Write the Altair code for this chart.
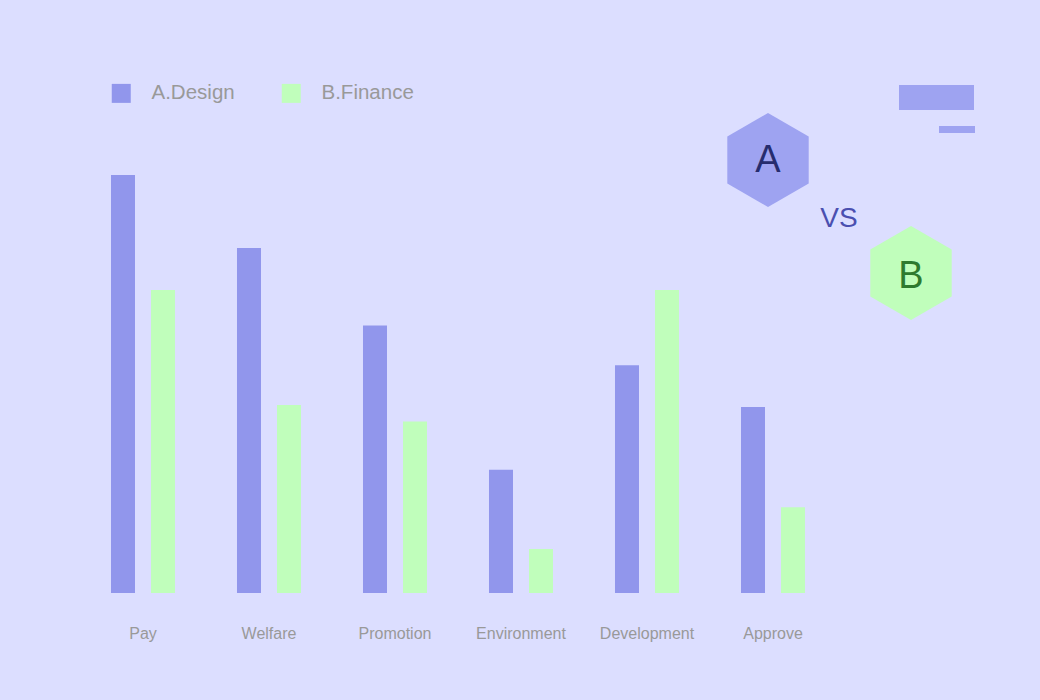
import altair as alt
import pandas as pd

categories = ["Pay", "Welfare", "Promotion", "Environment", "Development", "Approve"]
series_names = ["A.Design", "B.Finance"]
design_values = [100, 82.5, 64, 29.5, 54.5, 44.5]
finance_values = [72.5, 45, 41, 10.5, 72.5, 20.5]

rows = []
for c, a, b in zip(categories, design_values, finance_values):
    rows.append({"category": c, "series": series_names[0], "value": a})
    rows.append({"category": c, "series": series_names[1], "value": b})
df = pd.DataFrame(rows)

BG = "#dcdeff"
COL_A = "#9196ec"
COL_B = "#c0febb"
HEX_A = "#9ea3f1"

PLOT_LEFT, PLOT_TOP = 80, 60
W, H = 756, 533

bars = alt.Chart(df).mark_bar().encode(
    x=alt.X("category:N", sort=categories, title=None,
            scale=alt.Scale(paddingInner=0.492, paddingOuter=0.246),
            axis=alt.Axis(labelAngle=0, labelFontSize=16, labelColor="#999999",
                          labelFont="Liberation Sans", ticks=False, domain=False,
                          labelPadding=32, grid=False)),
    xOffset=alt.XOffset("series:N", sort=series_names,
                        scale=alt.Scale(paddingInner=0.4, paddingOuter=0)),
    y=alt.Y("value:Q", scale=alt.Scale(domain=[0, 127.5], nice=False, zero=True),
            axis=None),
    color=alt.Color("series:N", sort=series_names,
                    scale=alt.Scale(domain=series_names, range=[COL_A, COL_B]),
                    legend=alt.Legend(orient="none", legendX=31, legendY=23,
                                      direction="horizontal", title=None,
                                      symbolType="square", symbolSize=361,
                                      symbolStrokeWidth=0, symbolOpacity=1,
                                      labelFontSize=20.5, labelColor="#999999",
                                      labelFont="Liberation Sans", labelOffset=20,
                                      columnPadding=46, padding=0)),
)

hex_path = "M0,-1L0.866,-0.5L0.866,0.5L0,1L-0.866,0.5L-0.866,-0.5Z"
deco = pd.DataFrame({"k": [0]})

hexA = alt.Chart(deco).mark_point(shape=hex_path, filled=True, size=8836,
                                  color=HEX_A, opacity=1, strokeWidth=0).encode(
    x=alt.value(768 - PLOT_LEFT), y=alt.value(160 - PLOT_TOP))
hexB = alt.Chart(deco).mark_point(shape=hex_path, filled=True, size=8836,
                                  color=COL_B, opacity=1, strokeWidth=0).encode(
    x=alt.value(911 - PLOT_LEFT), y=alt.value(273 - PLOT_TOP))

txtA = alt.Chart(deco).mark_text(text="A", fontSize=38, font="Liberation Sans",
                                 color="#262c6e", baseline="alphabetic", align="center").encode(
    x=alt.value(768 - PLOT_LEFT), y=alt.value(172 - PLOT_TOP))
txtB = alt.Chart(deco).mark_text(text="B", fontSize=38, font="Liberation Sans",
                                 color="#2e7a2e", baseline="alphabetic", align="center").encode(
    x=alt.value(911 - PLOT_LEFT), y=alt.value(288 - PLOT_TOP))
txtVS = alt.Chart(deco).mark_text(text="VS", fontSize=28, font="Liberation Sans",
                                  color="#4a4fb0", baseline="alphabetic", align="center").encode(
    x=alt.value(839 - PLOT_LEFT), y=alt.value(227 - PLOT_TOP))

rect1 = alt.Chart(deco).mark_rect(color=HEX_A).encode(
    x=alt.value(899 - PLOT_LEFT), x2=alt.value(974 - PLOT_LEFT),
    y=alt.value(85 - PLOT_TOP), y2=alt.value(110 - PLOT_TOP))
rect2 = alt.Chart(deco).mark_rect(color=HEX_A).encode(
    x=alt.value(939 - PLOT_LEFT), x2=alt.value(975 - PLOT_LEFT),
    y=alt.value(126 - PLOT_TOP), y2=alt.value(133 - PLOT_TOP))

chart = alt.layer(bars, hexA, hexB, txtA, txtB, txtVS, rect1, rect2).properties(
    width=W, height=H,
    autosize=alt.AutoSizeParams(type="none"),
    padding={"left": PLOT_LEFT - 8, "top": PLOT_TOP - 8, "right": 1024 - PLOT_LEFT - W, "bottom": 684 - PLOT_TOP - H},
    background=BG,
).configure_view(stroke=None)

chart.save("out.html", embed_options={"renderer": "svg", "actions": False})

# paint the page margin with the same background colour
with open("out.html", "r", encoding="utf-8") as f:
    html = f.read()
style = "<style>html,body{background:%s;}</style>" % BG
if "</head>" in html:
    html = html.replace("</head>", style + "</head>", 1)
else:
    html = style + html
with open("out.html", "w", encoding="utf-8") as f:
    f.write(html)
